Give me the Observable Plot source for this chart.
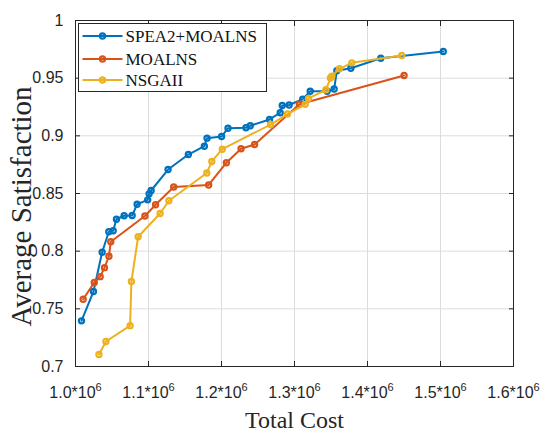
<!DOCTYPE html>
<html>
<head>
<meta charset="utf-8">
<script src="https://cdn.jsdelivr.net/npm/d3@7"></script>
<script src="https://cdn.jsdelivr.net/npm/@observablehq/plot@0.6"></script>
<style>
  body { margin: 0; background: #fff; }
  #wrap { position: relative; width: 550px; height: 437px; }
  #legend { position: absolute; left: 78px; top: 23px; }
</style>
</head>
<body>
<div id="wrap"></div>
<script>
const seriesNames = ["SPEA2+MOALNS", "MOALNS", "NSGAII"];
const seriesColors = ["#0072BD", "#D95319", "#EDB120"];

const spea2Cost = [1008200, 1024600, 1036500, 1045600, 1051600, 1056100, 1066600, 1077600, 1084400, 1098900, 1100800, 1103600, 1126800, 1154600, 1176500, 1180200, 1200100, 1208900, 1233500, 1239400, 1265800, 1280400, 1283200, 1292700, 1311200, 1321500, 1344700, 1354300, 1358000, 1377200, 1418200, 1503800];
const spea2Sat = [0.7396, 0.7650, 0.7991, 0.8168, 0.8177, 0.8277, 0.8307, 0.8309, 0.8407, 0.8445, 0.8497, 0.8526, 0.8708, 0.8838, 0.8910, 0.8980, 0.8994, 0.9066, 0.9070, 0.9087, 0.9142, 0.9200, 0.9263, 0.9267, 0.9318, 0.9386, 0.9387, 0.9406, 0.9564, 0.9586, 0.9673, 0.9731];

const moalnsCost = [1010500, 1025700, 1033800, 1039700, 1045800, 1048300, 1095100, 1109700, 1134500, 1182400, 1206700, 1226800, 1245300, 1306700, 1450100];
const moalnsSat = [0.7583, 0.7728, 0.7779, 0.7857, 0.7956, 0.8082, 0.8305, 0.8402, 0.8556, 0.8574, 0.8767, 0.8888, 0.8925, 0.9274, 0.9523];

const nsgaCost = [1032100, 1041700, 1074800, 1076600, 1085800, 1115900, 1127900, 1179900, 1186700, 1201100, 1267200, 1290400, 1314600, 1319200, 1343000, 1349200, 1351200, 1361600, 1378500, 1446900];
const nsgaSat = [0.7104, 0.7217, 0.7354, 0.7737, 0.8125, 0.8327, 0.8437, 0.8678, 0.8778, 0.8884, 0.9098, 0.9189, 0.9273, 0.9324, 0.9399, 0.9501, 0.9517, 0.9581, 0.9633, 0.9697];

const xTicks = [1.0e6, 1.1e6, 1.2e6, 1.3e6, 1.4e6, 1.5e6, 1.6e6];
const yTicks = [0.7, 0.75, 0.8, 0.85, 0.9, 0.95, 1];
const xLabel = "Total Cost";
const yLabel = "Average Satisfaction";

const serif = "'Liberation Serif', 'Times New Roman', serif";
const sans = "'Liberation Sans', Arial, sans-serif";

const seriesData = [[spea2Cost, spea2Sat], [moalnsCost, moalnsSat], [nsgaCost, nsgaSat]].map(([c, s], i) =>
  c.map((v, j) => ({series: seriesNames[i], cost: v, sat: s[j]}))
);

const seriesMarks = seriesData.flatMap((rows, i) => [
  Plot.line(rows, {x: "cost", y: "sat", stroke: seriesColors[i], strokeWidth: 2}),
  Plot.dot(rows, {x: "cost", y: "sat", stroke: seriesColors[i], fill: "none", r: 2.6, strokeWidth: 2.2})
]);

const chart = Plot.plot({
  width: 550,
  height: 437,
  marginLeft: 75,
  marginRight: 37,
  marginTop: 20,
  marginBottom: 71,
  style: {fontFamily: sans, fontSize: "16px", color: "#262626", background: "#fff"},
  x: {domain: [1.0e6, 1.6e6], label: null},
  y: {domain: [0.7, 1], label: null},
  marks: [
    Plot.gridX(xTicks, {stroke: "#dcdcdc", strokeOpacity: 1}),
    Plot.gridY(yTicks, {stroke: "#dcdcdc", strokeOpacity: 1}),
    ...seriesMarks,
    Plot.frame({stroke: "#262626", strokeWidth: 1}),
    Plot.axisX(xTicks, {tickSize: -5, tickPadding: 25, tickFormat: d => (d / 1e6).toFixed(1) + "*10", label: null, fontSize: 16}),
    Plot.axisX(xTicks, {anchor: "top", tickSize: -5, tickFormat: () => "", label: null}),
    Plot.axisY(yTicks, {tickSize: -5, tickPadding: 17, tickFormat: d => String(+d.toFixed(2)), label: null, fontSize: 16}),
    Plot.axisY(yTicks, {anchor: "right", tickSize: -5, tickFormat: () => "", label: null}),
    Plot.text([xLabel], {text: d => d, frameAnchor: "bottom", textAnchor: "middle", lineAnchor: "top", dy: 44, fontSize: 24, fontFamily: serif, fill: "#262626"}),
    Plot.text([yLabel], {text: d => d, frameAnchor: "left", textAnchor: "middle", lineAnchor: "middle", rotate: -90, dx: -54, dy: 13, fontSize: 29, fontFamily: serif, fill: "#262626"})
  ]
});

// superscript exponent on x tick labels
d3.select(chart).selectAll('g[aria-label="x-axis tick label"] text').each(function() {
  if (this.textContent) {
    d3.select(this).append("tspan").attr("dy", "-7px").attr("font-size", "11px").text("6");
  }
});

const wrap = document.getElementById("wrap");
wrap.appendChild(chart);

// legend overlay
const lw = 189, lh = 69;
const legend = d3.create("svg").attr("id", "legend").attr("width", lw).attr("height", lh);
legend.append("rect").attr("x", 0.5).attr("y", 0.5).attr("width", lw - 1).attr("height", lh - 1)
  .attr("fill", "#fff").attr("stroke", "#262626").attr("stroke-width", 1);
const rowY = [13, 36, 57];
seriesNames.forEach((name, i) => {
  const g = legend.append("g").attr("transform", `translate(0,${rowY[i]})`);
  g.append("line").attr("x1", 4.5).attr("x2", 44.5).attr("y1", 0).attr("y2", 0)
    .attr("stroke", seriesColors[i]).attr("stroke-width", 2);
  g.append("circle").attr("cx", 24.5).attr("cy", 0).attr("r", 2.6)
    .attr("fill", "none").attr("stroke", seriesColors[i]).attr("stroke-width", 2.2);
  g.append("text").attr("x", 47.5).attr("y", 0).attr("dy", "0.35em")
    .attr("font-family", serif).attr("font-size", 17).attr("fill", "#111").text(name);
});
wrap.appendChild(legend.node());
</script>
</body>
</html>
